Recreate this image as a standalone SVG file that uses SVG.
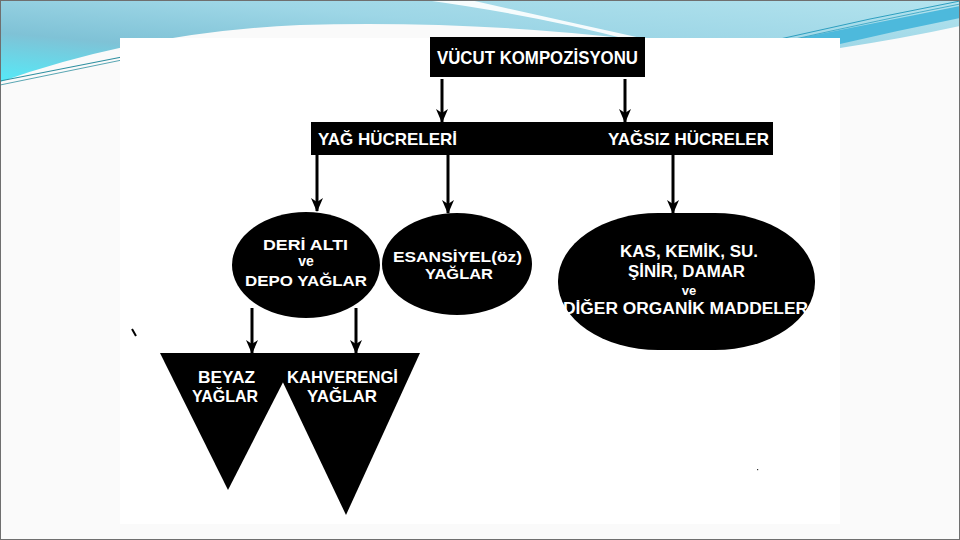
<svg xmlns="http://www.w3.org/2000/svg" width="960" height="540" viewBox="0 0 960 540">
<defs>
<linearGradient id="band" x1="0" y1="1" x2="1" y2="0">
<stop offset="0" stop-color="#55EAF8"/>
<stop offset="0.3" stop-color="#7FC2D6"/>
<stop offset="0.6" stop-color="#9DD6E6"/>
<stop offset="1" stop-color="#B3E3EE"/>
</linearGradient>
<marker id="ah" viewBox="0 0 14 12" refX="13" refY="6" markerWidth="14" markerHeight="12" markerUnits="userSpaceOnUse" orient="auto">
<path d="M0,0 L14,6 L0,12 L4,6 Z" fill="#000"/>
</marker>
<style>
.shape{fill:#000}
.lbl{fill:#fff;font-family:"Liberation Sans",Arial,sans-serif;font-weight:bold}
.conn{stroke:#000;stroke-width:3;fill:none;marker-end:url(#ah)}
</style>
</defs>
<rect x="0" y="0" width="960" height="540" fill="#fafafa"/>
<g id="background">
<path d="M0,0 H960 V26 Q905,38 840,48 L840,40 L640,40 Q470,20 300,25 Q140,32 0,82 Z" fill="url(#band)"/>
<path d="M425,0 L470,0 Q560,20 650,40 L630,40 Q540,16 425,0 Z" fill="#ffffff" opacity="0.9"/>
<path d="M790,40 Q880,22 960,6 L960,18 Q900,30 840,44 L820,44 Z" fill="#4DB9DC"/>
<path d="M780,39 Q870,18 960,1" stroke="#2E9FC0" stroke-width="1" fill="none"/>
<path d="M795,39 Q880,20 960,4" stroke="#2E9FC0" stroke-width="0.8" fill="none"/>
<path d="M0,81 L122,57" stroke="#2E8FA0" stroke-width="1.2" fill="none"/>
<path d="M0,85 L122,60" stroke="#2E8FA0" stroke-width="0.8" fill="none"/>
<rect x="120" y="38" width="720" height="486" fill="#ffffff"/>
<rect x="0.5" y="0.5" width="959" height="539" fill="none" stroke="#6f6f6f" stroke-width="1"/>
</g>
<g id="connectors">
<line class="conn" x1="442" y1="79" x2="442" y2="122"/>
<line class="conn" x1="625" y1="79" x2="625" y2="122"/>
<line class="conn" x1="317" y1="155" x2="317" y2="211"/>
<line class="conn" x1="448" y1="155" x2="448" y2="213"/>
<line class="conn" x1="673" y1="155" x2="673" y2="213"/>
<line class="conn" x1="252" y1="308" x2="252" y2="353"/>
<line class="conn" x1="356" y1="308" x2="356" y2="353"/>
</g>
<g id="vucut">
<rect class="shape" x="430" y="37" width="215" height="40"/>
<text class="lbl" x="437" y="64" font-size="18" textLength="201" lengthAdjust="spacingAndGlyphs">VÜCUT KOMPOZİSYONU</text>
</g>
<g id="hucreler">
<rect class="shape" x="311" y="122" width="462" height="33"/>
<text class="lbl" x="318" y="145" font-size="17" textLength="139" lengthAdjust="spacingAndGlyphs">YAĞ HÜCRELERİ</text>
<text class="lbl" x="608" y="145" font-size="17" textLength="161" lengthAdjust="spacingAndGlyphs">YAĞSIZ HÜCRELER</text>
</g>
<g id="deri-alti">
<ellipse class="shape" cx="306" cy="265" rx="74" ry="53"/>
<text class="lbl" x="263" y="250" font-size="15" textLength="85" lengthAdjust="spacingAndGlyphs">DERİ ALTI</text>
<text class="lbl" x="306" y="266" font-size="14" text-anchor="middle">ve</text>
<text class="lbl" x="245" y="286" font-size="15" textLength="122" lengthAdjust="spacingAndGlyphs">DEPO YAĞLAR</text>
</g>
<g id="esansiyel">
<ellipse class="shape" cx="457" cy="264" rx="75" ry="51"/>
<text class="lbl" x="393" y="262" font-size="15" textLength="129" lengthAdjust="spacingAndGlyphs">ESANSİYEL(öz)</text>
<text class="lbl" x="425" y="279" font-size="15" textLength="68" lengthAdjust="spacingAndGlyphs">YAĞLAR</text>
</g>
<g id="kas">
<rect class="shape" x="558" y="213" width="257" height="137" rx="100" ry="68"/>
<text class="lbl" x="620" y="257" font-size="16" textLength="138" lengthAdjust="spacingAndGlyphs">KAS, KEMİK, SU.</text>
<text class="lbl" x="628" y="277" font-size="16" textLength="117" lengthAdjust="spacingAndGlyphs">ŞİNİR, DAMAR</text>
<text class="lbl" x="689" y="295" font-size="13" text-anchor="middle">ve</text>
<text class="lbl" x="563" y="314" font-size="16" textLength="245" lengthAdjust="spacingAndGlyphs">DİĞER ORGANİK MADDELER</text>
</g>
<g id="beyaz">
<polygon class="shape" points="160,353 298,353 228,490"/>
<text class="lbl" x="198" y="383" font-size="17" textLength="57" lengthAdjust="spacingAndGlyphs">BEYAZ</text>
<text class="lbl" x="192" y="402" font-size="17" textLength="66" lengthAdjust="spacingAndGlyphs">YAĞLAR</text>
</g>
<g id="kahverengi">
<polygon class="shape" points="269,353 420,353 346,515"/>
<text class="lbl" x="287" y="383" font-size="17" textLength="111" lengthAdjust="spacingAndGlyphs">KAHVERENGİ</text>
<text class="lbl" x="307" y="402" font-size="17" textLength="70" lengthAdjust="spacingAndGlyphs">YAĞLAR</text>
</g>
<g id="marks">
<path d="M132,329 L136,336" stroke="#000" stroke-width="2"/>
<rect x="757" y="469" width="1.2" height="1.2" fill="#333"/>
</g>
</svg>
